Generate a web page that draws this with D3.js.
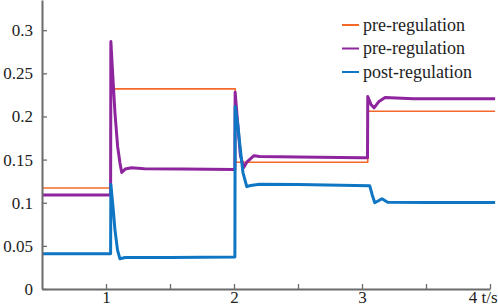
<!DOCTYPE html>
<html>
<head>
<meta charset="utf-8">
<script src="https://cdn.jsdelivr.net/npm/d3@7"></script>
<style>
  body { margin: 0; background: #fff; }
  svg text { font-family: "Liberation Serif", "DejaVu Serif", "Times New Roman", serif; }
  .axis text { font-size: 17px; fill: #222; }
  .axis path, .axis line { stroke: #6b6b6b; }
</style>
</head>
<body>
<div class="chart"></div>
<script>
// time (s) and values
const setT   = [0.5, 1.04, 1.04, 2.01, 2.01, 3.045, 3.045, 4.04];
const setV   = [0.117, 0.117, 0.232, 0.232, 0.147, 0.147, 0.206, 0.206];

const preT   = [0.5, 0.8, 1.036, 1.038, 1.05, 1.07, 1.091, 1.109, 1.123, 1.15, 1.2, 1.3, 1.6, 2.007,
                2.009, 2.03, 2.05, 2.076, 2.1, 2.156, 2.2, 2.5, 3.0, 3.043, 3.045, 3.07, 3.094, 3.13, 3.18, 3.4, 3.8, 4.04];
const preV   = [0.109, 0.109, 0.109, 0.287, 0.255, 0.204, 0.165, 0.146, 0.135, 0.139, 0.1405, 0.1395, 0.139, 0.1385,
                0.228, 0.19, 0.155, 0.1407, 0.147, 0.1545, 0.1535, 0.153, 0.152, 0.152, 0.223, 0.214, 0.210, 0.217, 0.222, 0.2205, 0.2205, 0.2205];

const postT  = [0.5, 0.8, 1.036, 1.038, 1.055, 1.07, 1.09, 1.109, 1.15, 1.5, 2.007,
                2.009, 2.03, 2.047, 2.07, 2.1, 2.13, 2.2, 2.5, 3.06, 3.08, 3.1, 3.125, 3.156, 3.2, 3.5, 4.04];
const postV  = [0.041, 0.041, 0.041, 0.121, 0.095, 0.0686, 0.045, 0.035, 0.0365, 0.0365, 0.037,
                0.2116, 0.19, 0.165, 0.135, 0.1186, 0.12, 0.1215, 0.121, 0.1198, 0.109, 0.1, 0.102, 0.1047, 0.1005, 0.1003, 0.1003];

const yTicks = [0, 0.05, 0.1, 0.15, 0.2, 0.25, 0.3];
const yTickLabels = ["0", "0.05", "0.1", "0.15", "0.2", "0.25", "0.3"];
const xTicks = [1, 2, 3, 4];
const xTickLabels = ["1", "2", "3", "4 t/s"];
const xMinorTicks = [1.5, 2.5, 3.5];

const legendLabels = ["pre-regulation", "pre-regulation", "post-regulation"];
const colors = ["#f4692a", "#8e249e", "#0f76c3"];

// margin convention
const margin = ({top: 0, right: 8, bottom: 19, left: 42});
const width = 498 - margin.left - margin.right;
const height = 308 - margin.top - margin.bottom;

var svg = d3.select(".chart")
    .append("svg")
    .attr("width", width + margin.left + margin.right)
    .attr("height", height + margin.top + margin.bottom)
    .append("g")
    .attr("transform", "translate(" + margin.left + "," + margin.top + ")");

// scales
var xScale = d3.scaleLinear()
    .domain([0.5, 4])
    .range([0, width]);

var yScale = d3.scaleLinear()
    .domain([0, 0.335])
    .range([height, 0]);

// axes (ticks point inwards)
const xAxis = d3.axisBottom(xScale)
    .tickValues(xTicks)
    .tickFormat((d, i) => xTickLabels[i])
    .tickSize(-5)
    .tickSizeOuter(0)
    .tickPadding(2);

const xMinor = d3.axisBottom(xScale)
    .tickValues(xMinorTicks)
    .tickFormat("")
    .tickSize(-5)
    .tickSizeOuter(0);

const yAxis = d3.axisLeft(yScale)
    .tickValues(yTicks)
    .tickFormat((d, i) => yTickLabels[i])
    .tickSize(-5)
    .tickSizeOuter(0)
    .tickPadding(9);

// series
const series = [
    {t: setT, v: setV, w: 1.6},
    {t: preT, v: preV, w: 3},
    {t: postT, v: postV, w: 3}
];

var line = d3.line()
    .x(d => xScale(d[0]))
    .y(d => yScale(d[1]));

svg.selectAll(".series")
    .data(series)
    .enter()
    .append("path")
    .attr("class", "series")
    .attr("d", s => line(s.t.map((t, i) => [t, s.v[i]])))
    .attr("fill", "none")
    .attr("stroke", (s, i) => colors[i])
    .attr("stroke-width", s => s.w)
    .attr("stroke-linejoin", "round");

var xAxisDisplay = svg.append("g")
    .attr("class", "axis x-axis")
    .attr("transform", `translate(0, ${height})`)
    .call(xAxis);

svg.append("g")
    .attr("class", "axis x-minor")
    .attr("transform", `translate(0, ${height})`)
    .call(xMinor)
    .select(".domain").remove();

var yAxisDisplay = svg.append("g")
    .attr("class", "axis y-axis")
    .call(yAxis);

svg.selectAll(".axis").attr("font-family", null).attr("font-size", null);
svg.selectAll(".axis .domain").attr("stroke-width", 2);
svg.selectAll(".axis .tick line").attr("stroke-width", 1.3);

// last x label "4 t/s" sits left of its tick
xAxisDisplay.selectAll(".tick text")
    .filter(d => d === 4)
    .attr("text-anchor", "end")
    .attr("x", 7);

// legend
var legend = svg.append("g")
    .attr("class", "legend")
    .attr("transform", "translate(300, 25)");

var items = legend.selectAll("g")
    .data(legendLabels)
    .enter()
    .append("g")
    .attr("transform", (d, i) => `translate(0, ${i * 23.5})`);

items.append("line")
    .attr("x1", 0)
    .attr("x2", 17)
    .attr("stroke", (d, i) => colors[i])
    .attr("stroke-width", 2);

items.append("text")
    .attr("x", 21)
    .attr("dy", "0.32em")
    .attr("font-size", 18)
    .attr("fill", "#222")
    .text(d => d);
</script>
</body>
</html>
